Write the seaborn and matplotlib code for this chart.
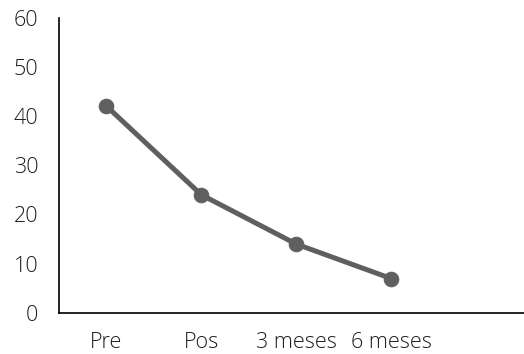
import matplotlib
matplotlib.use("Agg")
import matplotlib.pyplot as plt
import seaborn as sns
import pandas as pd

categories = ["Pre", "Pos", "3 meses", "6 meses"]
values = [42, 24, 14, 7]
y_ticks = [0, 10, 20, 30, 40, 50, 60]

sns.set_style("white")
plt.rcParams["font.family"] = ["Open Sans", "DejaVu Sans"]

df = pd.DataFrame({"cat": categories, "val": values})

fig = plt.figure(figsize=(5.24, 3.54), dpi=100)
ax = fig.add_axes([59/524, 1 - 313/354, 1 - 59/524, (313 - 17.5)/354])

sns.lineplot(data=df, x="cat", y="val", ax=ax, color="#5f5f5f",
             linewidth=3.6, marker="o", markersize=10.5,
             markeredgecolor="#5f5f5f", sort=False)

ax.set_xlim(-0.5, 4.4)
ax.set_ylim(0, 60)
ax.set_yticks(y_ticks)
ax.set_xticks(range(len(categories)))
ax.set_xticklabels(categories)
ax.set_xlabel("")
ax.set_ylabel("")
for s in ["top", "right"]:
    ax.spines[s].set_visible(False)
for s in ["left", "bottom"]:
    ax.spines[s].set_color("black")
    ax.spines[s].set_linewidth(1.2)
ax.tick_params(axis="both", length=0, labelsize=15.5, colors="#1e1e1e")
for lab in ax.get_xticklabels() + ax.get_yticklabels():
    lab.set_fontweight("light")
ax.tick_params(axis="y", pad=15)
ax.tick_params(axis="x", pad=13.5)

fig.savefig("out.png", dpi=100)
